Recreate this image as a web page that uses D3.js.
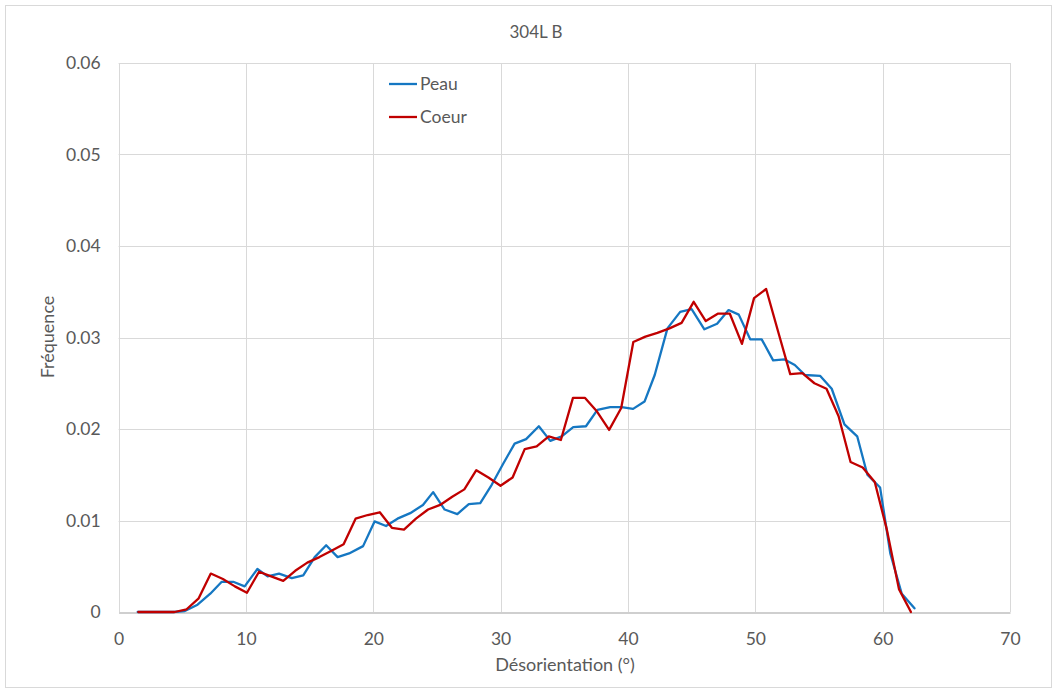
<!DOCTYPE html>
<html>
<head>
<meta charset="utf-8">
<script src="https://cdn.jsdelivr.net/npm/d3@7"></script>
<style>
  html, body { margin: 0; padding: 0; background: #fff; }
  svg { display: block; font-family: Lato, "Open Sans", sans-serif; }
</style>
</head>
<body>
<svg id="chart" width="1057" height="691"></svg>
<script>
// Misorientation distribution, 304L B: skin (Peau) vs core (Coeur)
const titleText = "304L B";
const xLabel = "Désorientation (°)";
const yLabel = "Fréquence";
const seriesNames = ["Peau", "Coeur"];
const seriesColors = ["#1577C2", "#C00000"];

const xTicks = [0, 10, 20, 30, 40, 50, 60, 70];
const yTicks = [0, 0.01, 0.02, 0.03, 0.04, 0.05, 0.06];

// Peau (skin)
const peauX = [1.5, 2.4, 3.4, 4.3, 5.2, 6.2, 7.2, 8.1, 9.0, 9.9, 10.9, 11.7, 12.6, 13.6, 14.5,
  15.4, 16.3, 17.2, 18.1, 19.2, 20.1, 21.0, 21.9, 22.9, 23.9, 24.7, 25.6, 26.6, 27.5, 28.4,
  29.3, 30.2, 31.1, 32.0, 33.0, 33.9, 34.8, 35.7, 36.7, 37.6, 38.6, 39.5, 40.4, 41.3, 42.1,
  43.1, 44.1, 45.0, 46.0, 47.0, 47.9, 48.7, 49.6, 50.5, 51.4, 52.3, 53.1, 53.9, 55.1, 56.0,
  57.0, 58.0, 58.8, 59.8, 60.6, 61.5, 62.5];
const peauY = [0, 0, 0, 0, 0.0001, 0.0008, 0.0020, 0.0033, 0.0033, 0.0028, 0.0047, 0.0039, 0.0042, 0.0037, 0.0040,
  0.0060, 0.0073, 0.0060, 0.0064, 0.0072, 0.0099, 0.0094, 0.0102, 0.0108, 0.0117, 0.0131, 0.0112, 0.0107, 0.0118, 0.0119,
  0.0139, 0.0162, 0.0184, 0.0189, 0.0203, 0.0187, 0.0192, 0.0202, 0.0203, 0.0221, 0.0224, 0.0224, 0.0222, 0.0230, 0.0259,
  0.0310, 0.0328, 0.0331, 0.0309, 0.0315, 0.0330, 0.0325, 0.0298, 0.0298, 0.0275, 0.0276, 0.0270, 0.0259, 0.0258, 0.0244,
  0.0205, 0.0192, 0.0150, 0.0136, 0.0064, 0.0020, 0.0004];

// Coeur (core)
const coeurX = [1.55, 2.50, 3.45, 4.39, 5.34, 6.29, 7.24, 8.19, 9.13, 10.08, 11.03, 11.98, 12.93, 13.87, 14.82,
  15.77, 16.72, 17.67, 18.61, 19.56, 20.51, 21.46, 22.41, 23.35, 24.30, 25.25, 26.20, 27.15, 28.09, 29.04,
  29.99, 30.94, 31.89, 32.83, 33.78, 34.73, 35.68, 36.63, 37.57, 38.52, 39.47, 40.42, 41.37, 42.31, 43.26,
  44.21, 45.16, 46.11, 47.05, 48.00, 48.95, 49.90, 50.85, 51.80, 52.74, 53.69, 54.64, 55.59, 56.54, 57.48,
  58.43, 59.38, 60.33, 61.28, 62.22];
const coeurY = [0, 0, 0, 0, 0.0003, 0.0015, 0.0042, 0.0036, 0.0028, 0.0021, 0.0044, 0.0039, 0.0034, 0.0045, 0.0054,
  0.0060, 0.0067, 0.0074, 0.0102, 0.0106, 0.0109, 0.0092, 0.0090, 0.0102, 0.0112, 0.0117, 0.0126, 0.0134, 0.0155, 0.0147,
  0.0138, 0.0147, 0.0178, 0.0181, 0.0192, 0.0188, 0.0234, 0.0234, 0.0219, 0.0199, 0.0223, 0.0295, 0.0301, 0.0305, 0.0310,
  0.0316, 0.0339, 0.0318, 0.0326, 0.0326, 0.0293, 0.0343, 0.0353, 0.0306, 0.0260, 0.0261, 0.0250, 0.0244, 0.0214, 0.0164,
  0.0158, 0.0142, 0.0090, 0.0025, 0];

const series = [
  { name: seriesNames[0], color: seriesColors[0], pts: peauX.map((x, i) => [x, peauY[i]]) },
  { name: seriesNames[1], color: seriesColors[1], pts: coeurX.map((x, i) => [x, coeurY[i]]) }
];

const svg = d3.select("#chart");
const W = 1057, H = 691;
const plot = { left: 118.6, right: 1010, top: 63, bottom: 612 };
const textColor = "#595959";

// chart frame
svg.append("rect")
  .attr("x", 5.5).attr("y", 5.5).attr("width", W - 11).attr("height", H - 9)
  .attr("fill", "#fff").attr("stroke", "#d9d9d9").attr("stroke-width", 1);

const x = d3.scaleLinear().domain([0, 70]).range([plot.left, plot.right]);
const y = d3.scaleLinear().domain([0, 0.06]).range([plot.bottom, plot.top]);

// gridlines
const grid = svg.append("g");
grid.selectAll("line.h").data(yTicks.slice(1)).join("line")
  .attr("x1", plot.left).attr("x2", plot.right)
  .attr("y1", d => Math.round(y(d)) + 0.5).attr("y2", d => Math.round(y(d)) + 0.5)
  .attr("stroke", "#d9d9d9").attr("stroke-width", 1);
grid.selectAll("line.v").data(xTicks.slice(1)).join("line")
  .attr("x1", d => Math.round(x(d)) + 0.5).attr("x2", d => Math.round(x(d)) + 0.5)
  .attr("y1", plot.top).attr("y2", plot.bottom)
  .attr("stroke", "#d9d9d9").attr("stroke-width", 1);
// left edge of the plot area
grid.append("line")
  .attr("x1", Math.round(x(0)) + 0.5).attr("x2", Math.round(x(0)) + 0.5)
  .attr("y1", plot.top).attr("y2", plot.bottom)
  .attr("stroke", "#d9d9d9").attr("stroke-width", 1);

// x axis
const xAxis = svg.append("g")
  .attr("transform", `translate(0,${Math.round(plot.bottom) + 0.5})`)
  .call(d3.axisBottom(x).tickValues(xTicks).tickSize(0).tickPadding(20).tickFormat(d3.format("d")));
xAxis.select(".domain").attr("stroke", "#bfbfbf").attr("stroke-width", 1.3);
xAxis.selectAll("text").attr("fill", textColor).attr("font-size", 17.5).attr("font-family", "Lato, sans-serif");

// y axis
const yAxis = svg.append("g")
  .attr("transform", `translate(${plot.left},0)`)
  .call(d3.axisLeft(y).tickValues(yTicks).tickSize(0).tickPadding(18)
    .tickFormat(d => d === 0 ? "0" : d3.format(".2f")(d)));
yAxis.select(".domain").remove();
yAxis.selectAll("text").attr("fill", textColor).attr("font-size", 17.5).attr("font-family", "Lato, sans-serif");

// series lines
const line = d3.line().x(d => x(d[0])).y(d => y(d[1]));
svg.append("g").selectAll("path").data(series).join("path")
  .attr("d", d => line(d.pts))
  .attr("fill", "none")
  .attr("stroke", d => d.color)
  .attr("stroke-width", 2.3)
  .attr("stroke-linejoin", "round")
  .attr("stroke-linecap", "round");

// title
svg.append("text")
  .attr("x", 536).attr("y", 38)
  .attr("text-anchor", "middle")
  .attr("fill", textColor).attr("font-size", 17)
  .text(titleText);

// axis titles
svg.append("text")
  .attr("x", 565).attr("y", 671)
  .attr("text-anchor", "middle")
  .attr("fill", textColor).attr("font-size", 18)
  .text(xLabel);
svg.append("text")
  .attr("transform", "translate(54,337) rotate(-90)")
  .attr("text-anchor", "middle")
  .attr("fill", textColor).attr("font-size", 18)
  .text(yLabel);

// legend
const legend = svg.append("g");
series.forEach((s, i) => {
  const ly = 84 + i * 33;
  legend.append("line")
    .attr("x1", 389).attr("x2", 417).attr("y1", ly).attr("y2", ly)
    .attr("stroke", s.color).attr("stroke-width", 2.3);
  legend.append("text")
    .attr("x", 420).attr("y", ly + 6)
    .attr("fill", textColor).attr("font-size", 17.5)
    .text(s.name);
});
</script>
</body>
</html>
